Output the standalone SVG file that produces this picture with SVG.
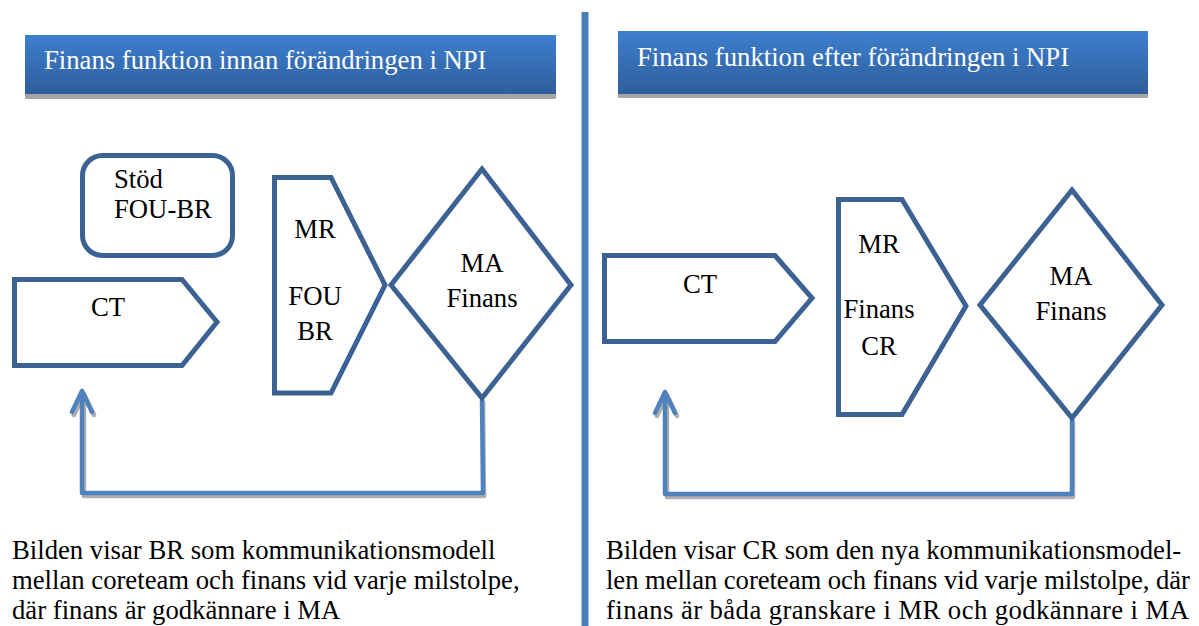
<svg xmlns="http://www.w3.org/2000/svg" width="1199" height="626" viewBox="0 0 1199 626">
  <defs>
    <linearGradient id="hdrGrad" x1="0" y1="0" x2="0" y2="1">
      <stop offset="0" stop-color="#3d7fcf"/>
      <stop offset="1" stop-color="#2f5e9b"/>
    </linearGradient>
  </defs>
  <style>
    text { font-family: "Liberation Serif", Tinos, "Times New Roman", serif; font-size: 26.7px; }
    .hdr { fill: url(#hdrGrad); }
    .hdr-shadow { fill: #a6a6a6; }
    .hdr-text { fill: #ffffff; }
    .shape { fill: #ffffff; stroke: #3b6292; stroke-width: 5; stroke-linejoin: miter; }
    .label { fill: #000000; text-anchor: middle; }
    .label-start { fill: #000000; }
    .caption { fill: #000000; }
    .conn { fill: none; stroke: #4f81bd; stroke-width: 4.5; stroke-linecap: round; stroke-linejoin: round; }
    .conn-shadow { fill: none; stroke: #9a9a9a; stroke-width: 4.5; stroke-linecap: round; stroke-linejoin: round; opacity: 0.8; }
    .divider { stroke: #4a7ebb; stroke-width: 7; }
  </style>

  <!-- vertical divider between the two panels -->
  <line class="divider" x1="585" y1="12" x2="585" y2="626"/>

  <!-- panel headers -->
  <g id="header-left">
    <rect class="hdr-shadow" x="25" y="90" width="531" height="9"/>
    <rect class="hdr" x="25" y="35" width="531" height="59"/>
    <text class="hdr-text" x="44" y="69">Finans funktion innan förändringen i NPI</text>
  </g>
  <g id="header-right">
    <rect class="hdr-shadow" x="618" y="90" width="530" height="8"/>
    <rect class="hdr" x="618" y="31" width="530" height="63"/>
    <text class="hdr-text" x="637" y="66">Finans funktion efter förändringen i NPI</text>
  </g>

  <!-- feedback connectors -->
  <g id="connectors">
    <path class="conn-shadow" d="M483 402 L484 496 L84 496 L84 394 M74 415 L84 394 L94 415"/>
    <path class="conn" d="M482 400 L483 493 L82 493 L82 391 M72 412 L82 391 L92 412"/>
    <path class="conn-shadow" d="M1073 422 L1073 497 L667 497 L667 395 M657 416 L667 395 L677 416"/>
    <path class="conn" d="M1072 420 L1072 494 L665 494 L665 392 M655 413 L665 392 L675 413"/>
  </g>

  <!-- left panel nodes -->
  <g id="stod-foubr">
    <rect class="shape" x="82.5" y="155.5" width="150" height="100" rx="20" ry="20"/>
    <text class="label-start" x="114" y="188">Stöd</text>
    <text class="label-start" x="114" y="218">FOU-BR</text>
  </g>
  <g id="ct-left">
    <polygon class="shape" points="14.5,279.5 182,279.5 217,322 182,365.5 14.5,365.5"/>
    <text class="label" x="108" y="316">CT</text>
  </g>
  <g id="mr-left">
    <polygon class="shape" points="274.5,177.5 331,177.5 385,285 331,393 274.5,393"/>
    <text class="label" x="315" y="238">MR</text>
    <text class="label" x="315" y="305">FOU</text>
    <text class="label" x="315" y="340">BR</text>
  </g>
  <g id="ma-left">
    <polygon class="shape" points="482,169 571,285 482,398 391,285"/>
    <text class="label" x="482" y="272">MA</text>
    <text class="label" x="482" y="307">Finans</text>
  </g>

  <!-- right panel nodes -->
  <g id="ct-right">
    <polygon class="shape" points="604.5,255.5 775,255.5 812,298 775,341.5 604.5,341.5"/>
    <text class="label" x="700" y="293">CT</text>
  </g>
  <g id="mr-right">
    <polygon class="shape" points="838.5,199.5 902,199.5 966,306 902,414.5 838.5,414.5"/>
    <text class="label" x="879" y="253">MR</text>
    <text class="label" x="879" y="318">Finans</text>
    <text class="label" x="879" y="355">CR</text>
  </g>
  <g id="ma-right">
    <polygon class="shape" points="1072,190 1162,305 1072,418 980,305"/>
    <text class="label" x="1071" y="285">MA</text>
    <text class="label" x="1071" y="320">Finans</text>
  </g>

  <!-- captions -->
  <g id="caption-left">
    <text class="caption" x="12" y="559">Bilden visar BR som kommunikationsmodell</text>
    <text class="caption" x="12" y="589">mellan coreteam och finans vid varje milstolpe,</text>
    <text class="caption" x="12" y="619">där finans är godkännare i MA</text>
  </g>
  <!-- justified paragraph: last two lines stretched to the column width -->
  <g id="caption-right">
    <text class="caption" x="606" y="559">Bilden visar CR som den nya kommunikationsmodel-</text>
    <text class="caption" x="606" y="589" textLength="584" lengthAdjust="spacing">len mellan coreteam och finans vid varje milstolpe, där</text>
    <text class="caption" x="606" y="619" textLength="583" lengthAdjust="spacing">finans är båda granskare i MR och godkännare i MA</text>
  </g>
</svg>
